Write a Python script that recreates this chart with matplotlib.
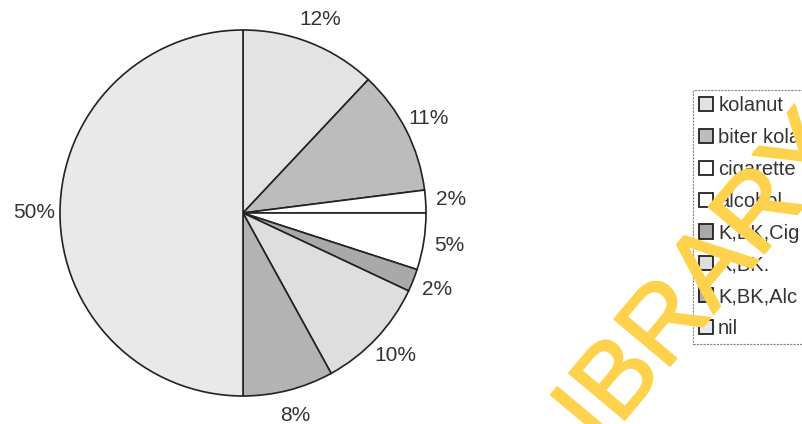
import matplotlib
matplotlib.use("Agg")
import matplotlib.pyplot as plt
import matplotlib.patheffects as pe

categories = ["kolanut", "biter kola", "cigarette", "alcohol", "K,BK,Cig", "K,BK.", "K,BK,Alc", "nil"]
values = [12, 11, 2, 5, 2, 10, 8, 50]
colors = ["#e3e3e3", "#bcbcbc", "#ffffff", "#ffffff", "#a9a9a9", "#dedede", "#b3b3b3", "#e9e9e9"]

plt.rcParams['font.family'] = ['Liberation Sans', 'DejaVu Sans']

W, H = 802, 424
fig = plt.figure(figsize=(W / 100, H / 100), dpi=100)
fig.patch.set_facecolor("white")

cx, cy, r = 243, 213, 183
ax = fig.add_axes([(cx - r) / W, (H - cy - r) / H, 2 * r / W, 2 * r / H])
wedges, texts, autotexts = ax.pie(
    values, colors=colors, startangle=90, counterclock=False,
    autopct='%1.0f%%', pctdistance=1.14,
    wedgeprops=dict(edgecolor="#222222", linewidth=1.2),
    textprops=dict(fontsize=15, color="#333333"),
)
ax.set_xlim(-1, 1)
ax.set_ylim(-1, 1)
ax.set_aspect("equal")
ax.axis("off")

leg = fig.legend(
    wedges, categories, loc="upper left",
    bbox_to_anchor=(693 / W, 1 - 90 / H), bbox_transform=fig.transFigure,
    fontsize=14.5, frameon=True, fancybox=False, borderaxespad=0,
    handlelength=0.7, handleheight=0.7, handletextpad=0.25,
    labelspacing=0.64, borderpad=0.3,
)
frame = leg.get_frame()
frame.set_edgecolor("#666666")
frame.set_linewidth(0.8)
frame.set_linestyle((0, (2, 1)))
for t in leg.get_texts():
    t.set_color("#333333")
for h in leg.legend_handles:
    h.set_edgecolor("#222222")
    h.set_linewidth(1.3)

fig.text(686, H - 304, "LIBRARY", transform=None, fontsize=76, rotation=50,
         color="#ffd24d", ha="center", va="center", zorder=10,
         path_effects=[pe.withStroke(linewidth=1.5, foreground="#ffd24d")])

fig.savefig("out.png", dpi=100)
